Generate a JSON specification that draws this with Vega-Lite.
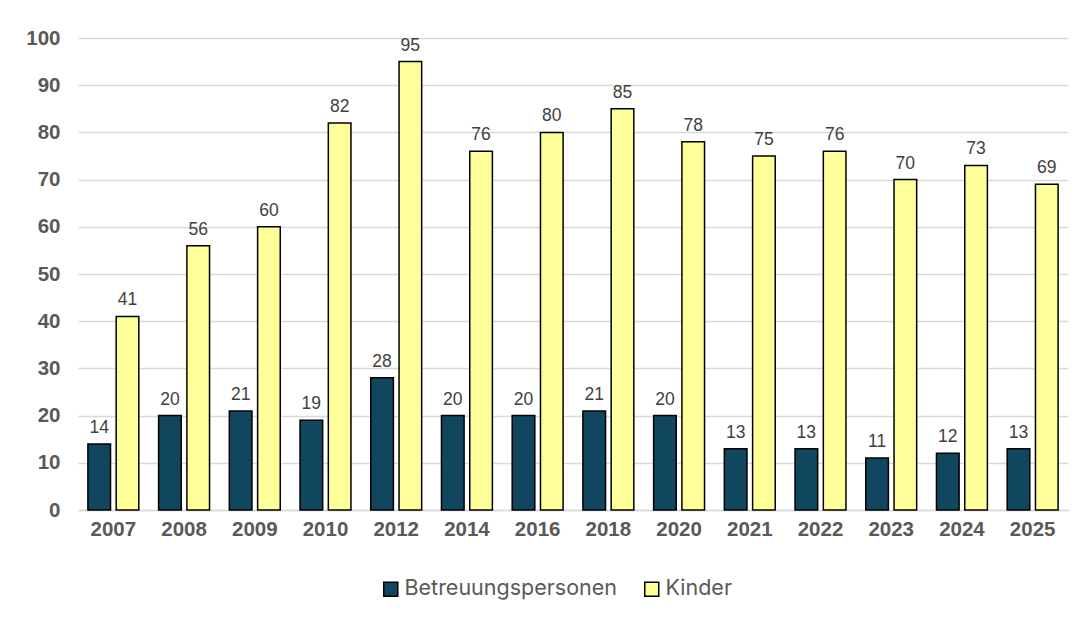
{
  "$schema": "https://vega.github.io/schema/vega-lite/v6.json",
  "autosize": "none",
  "width": 990,
  "height": 472,
  "padding": {"left": 78, "top": 38, "right": 20, "bottom": 111},
  "background": "white",
  "data": {
    "values": [
      {"Jahr": "2007", "Gruppe": "Betreuungspersonen", "Anzahl": 14},
      {"Jahr": "2007", "Gruppe": "Kinder", "Anzahl": 41},
      {"Jahr": "2008", "Gruppe": "Betreuungspersonen", "Anzahl": 20},
      {"Jahr": "2008", "Gruppe": "Kinder", "Anzahl": 56},
      {"Jahr": "2009", "Gruppe": "Betreuungspersonen", "Anzahl": 21},
      {"Jahr": "2009", "Gruppe": "Kinder", "Anzahl": 60},
      {"Jahr": "2010", "Gruppe": "Betreuungspersonen", "Anzahl": 19},
      {"Jahr": "2010", "Gruppe": "Kinder", "Anzahl": 82},
      {"Jahr": "2012", "Gruppe": "Betreuungspersonen", "Anzahl": 28},
      {"Jahr": "2012", "Gruppe": "Kinder", "Anzahl": 95},
      {"Jahr": "2014", "Gruppe": "Betreuungspersonen", "Anzahl": 20},
      {"Jahr": "2014", "Gruppe": "Kinder", "Anzahl": 76},
      {"Jahr": "2016", "Gruppe": "Betreuungspersonen", "Anzahl": 20},
      {"Jahr": "2016", "Gruppe": "Kinder", "Anzahl": 80},
      {"Jahr": "2018", "Gruppe": "Betreuungspersonen", "Anzahl": 21},
      {"Jahr": "2018", "Gruppe": "Kinder", "Anzahl": 85},
      {"Jahr": "2020", "Gruppe": "Betreuungspersonen", "Anzahl": 20},
      {"Jahr": "2020", "Gruppe": "Kinder", "Anzahl": 78},
      {"Jahr": "2021", "Gruppe": "Betreuungspersonen", "Anzahl": 13},
      {"Jahr": "2021", "Gruppe": "Kinder", "Anzahl": 75},
      {"Jahr": "2022", "Gruppe": "Betreuungspersonen", "Anzahl": 13},
      {"Jahr": "2022", "Gruppe": "Kinder", "Anzahl": 76},
      {"Jahr": "2023", "Gruppe": "Betreuungspersonen", "Anzahl": 11},
      {"Jahr": "2023", "Gruppe": "Kinder", "Anzahl": 70},
      {"Jahr": "2024", "Gruppe": "Betreuungspersonen", "Anzahl": 12},
      {"Jahr": "2024", "Gruppe": "Kinder", "Anzahl": 73},
      {"Jahr": "2025", "Gruppe": "Betreuungspersonen", "Anzahl": 13},
      {"Jahr": "2025", "Gruppe": "Kinder", "Anzahl": 69}
    ]
  },
  "encoding": {
    "x": {
      "field": "Jahr",
      "type": "nominal",
      "sort": null,
      "scale": {"paddingInner": 0.28, "paddingOuter": 0.14},
      "axis": {
        "title": null,
        "labelAngle": 0,
        "labelFont": "Liberation Sans",
        "labelFontSize": 20.5,
        "labelFontWeight": "bold",
        "labelColor": "#595959",
        "labelPadding": 9,
        "ticks": false,
        "domainColor": "#d9d9d9",
        "domainWidth": 1.5,
        "grid": false
      }
    },
    "xOffset": {
      "field": "Gruppe",
      "type": "nominal",
      "scale": {"paddingInner": 0.2, "paddingOuter": 0}
    },
    "y": {
      "field": "Anzahl",
      "type": "quantitative",
      "scale": {"domain": [0, 100], "nice": false},
      "axis": {
        "title": null,
        "values": [0, 10, 20, 30, 40, 50, 60, 70, 80, 90, 100],
        "labelFont": "Liberation Sans",
        "labelFontSize": 20.5,
        "labelFontWeight": "bold",
        "labelColor": "#595959",
        "labelPadding": 18,
        "ticks": false,
        "domain": false,
        "grid": true,
        "gridColor": "#d9d9d9",
        "gridWidth": 1.5
      }
    }
  },
  "layer": [
    {
      "mark": {"type": "bar", "stroke": "black", "strokeWidth": 1.5},
      "encoding": {
        "color": {
          "field": "Gruppe",
          "type": "nominal",
          "scale": {"domain": ["Betreuungspersonen", "Kinder"], "range": ["#10475f", "#ffff99"]},
          "legend": {
            "title": null,
            "orient": "none",
            "direction": "horizontal",
            "legendX": 302,
            "legendY": 540,
            "symbolType": "square",
            "symbolSize": 196,
            "symbolStrokeColor": "black",
            "symbolStrokeWidth": 1.5,
            "symbolOpacity": 1,
            "labelFont": "Inter",
            "labelFontSize": 21.5,
            "labelColor": "#595959",
            "labelOffset": 3,
            "labelLimit": 400,
            "columnPadding": 23
          }
        }
      }
    },
    {
      "mark": {
        "type": "text",
        "baseline": "bottom",
        "dy": -7,
        "font": "Liberation Sans",
        "fontSize": 17.5,
        "color": "#404040"
      },
      "encoding": {
        "text": {"field": "Anzahl", "type": "quantitative"}
      }
    }
  ],
  "config": {
    "view": {"stroke": null}
  }
}
